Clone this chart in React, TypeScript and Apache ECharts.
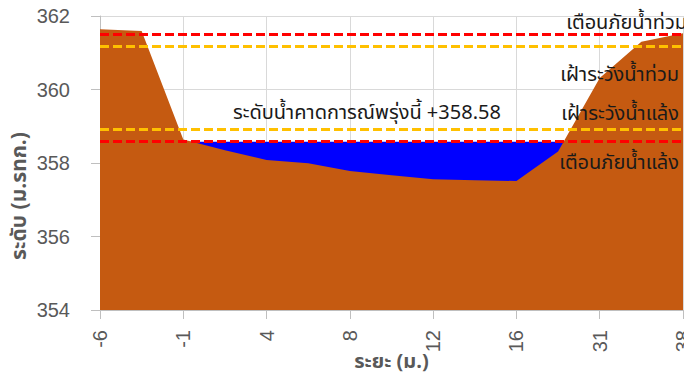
import React, { useEffect, useRef } from "react";
import * as echarts from "echarts";

const categories = ["-6", "-3.5", "-1", "1.5", "4", "6", "8", "10", "12", "14", "16", "23.5", "31", "34.5", "38"];
const groundLevel = [361.64, 361.59, 358.64, 358.35, 358.08, 357.99, 357.78, 357.67, 357.56, 357.53, 357.51, 358.31, 360.31, 361.3, 361.53];
const forecastWaterLevel = 358.58;
const floodWarning = 361.5;
const floodWatch = 361.18;
const droughtWatch = 358.93;
const droughtWarning = 358.58;
const yTicks = { min: 354, max: 362, interval: 2 };

const thaiFont = "'Noto Sans Thai', 'Noto Sans', 'Liberation Sans', sans-serif";
const numFont = "'Liberation Sans', Arial, sans-serif";

export default function App() {
  const ref = useRef<HTMLDivElement>(null);
  useEffect(() => {
    if (!ref.current) return;
    const chart = echarts.init(ref.current, undefined, { renderer: "svg" });
    const waterData = categories.map(() => forecastWaterLevel);
    const dash = (color: string, y: number, text: string, pos: string, dist: any) => ({
      yAxis: y,
      lineStyle: { color, width: 3, type: [9, 4] },
      label: {
        show: true,
        formatter: text,
        position: pos,
        distance: dist,
        color: "#1a1a1a",
        fontSize: 20,
        fontFamily: thaiFont,
      },
    });
    chart.setOption({
      animation: false,
      grid: { left: 100, right: 9, top: 16, bottom: 70, outerBoundsMode: "none", containLabel: false },
      xAxis: {
        type: "category",
        data: categories,
        boundaryGap: false,
        name: "ระยะ (ม.)",
        nameLocation: "middle",
        nameGap: 42,
        nameMoveOverlap: false,
        nameTextStyle: { color: "#595959", fontSize: 20, fontWeight: "bold", fontFamily: thaiFont },
        axisLine: { lineStyle: { color: "#bfbfbf", width: 1 } },
        axisTick: { interval: 1, length: 9, lineStyle: { color: "#bfbfbf" } },
        axisLabel: { interval: 1, rotate: 90, color: "#595959", fontSize: 20, margin: 20, fontFamily: numFont },
        splitLine: { show: true, interval: 1, lineStyle: { color: "#d9d9d9" } },
      },
      yAxis: {
        type: "value",
        min: yTicks.min,
        max: yTicks.max,
        interval: yTicks.interval,
        axisLine: { show: true, lineStyle: { color: "#bfbfbf" } },
        axisTick: { show: true, length: 9, lineStyle: { color: "#bfbfbf" } },
        axisLabel: { color: "#595959", fontSize: 20, margin: 30, fontFamily: numFont },
        splitLine: { lineStyle: { color: "#d9d9d9" } },
      },
      graphic: [
        {
          type: "text",
          x: 19,
          y: 196,
          rotation: Math.PI / 2,
          style: {
            text: "ระดับ (ม.รทก.)",
            fill: "#595959",
            font: `bold 21px ${thaiFont}`,
            align: "center",
            verticalAlign: "middle",
          },
        },
      ],
      series: [
        {
          name: "water",
          type: "line",
          data: waterData,
          symbol: "none",
          lineStyle: { width: 0 },
          areaStyle: { color: "#0000ff", opacity: 1, origin: "start" },
          z: 1,
          markPoint: {
            symbol: "circle",
            symbolSize: 0,
            data: [
              {
                coord: [3, forecastWaterLevel],
                label: {
                  show: true,
                  formatter: "ระดับน้ำคาดการณ์พรุ่งนี้ +358.58",
                  position: "right",
                  offset: [3, -29],
                  color: "#1a1a1a",
                  fontSize: 20,
                  fontFamily: thaiFont,
                },
              },
            ],
          },
        },
        {
          name: "ground",
          type: "line",
          data: groundLevel,
          symbol: "none",
          lineStyle: { width: 0 },
          areaStyle: { color: "#c55a11", opacity: 1, origin: "start" },
          z: 2,
          markLine: {
            symbol: "none",
            silent: true,
            z: 5,
            data: [
              dash("#ff0000", floodWarning, "เตือนภัยน้ำท่วม", "insideEndTop", [-4, 1]),
              dash("#ffc000", floodWatch, "เฝ้าระวังน้ำท่วม", "insideEndBottom", [4, 19]),
              dash("#ffc000", droughtWatch, "เฝ้าระวังน้ำแล้ง", "insideEndTop", [4, 5]),
              dash("#ff0000", droughtWarning, "เตือนภัยน้ำแล้ง", "insideEndBottom", [4, 11]),
            ],
          },
        },
      ],
    });
    return () => chart.dispose();
  }, []);
  return <div ref={ref} style={{ width: 692, height: 380, margin: -8 }} />;
}
